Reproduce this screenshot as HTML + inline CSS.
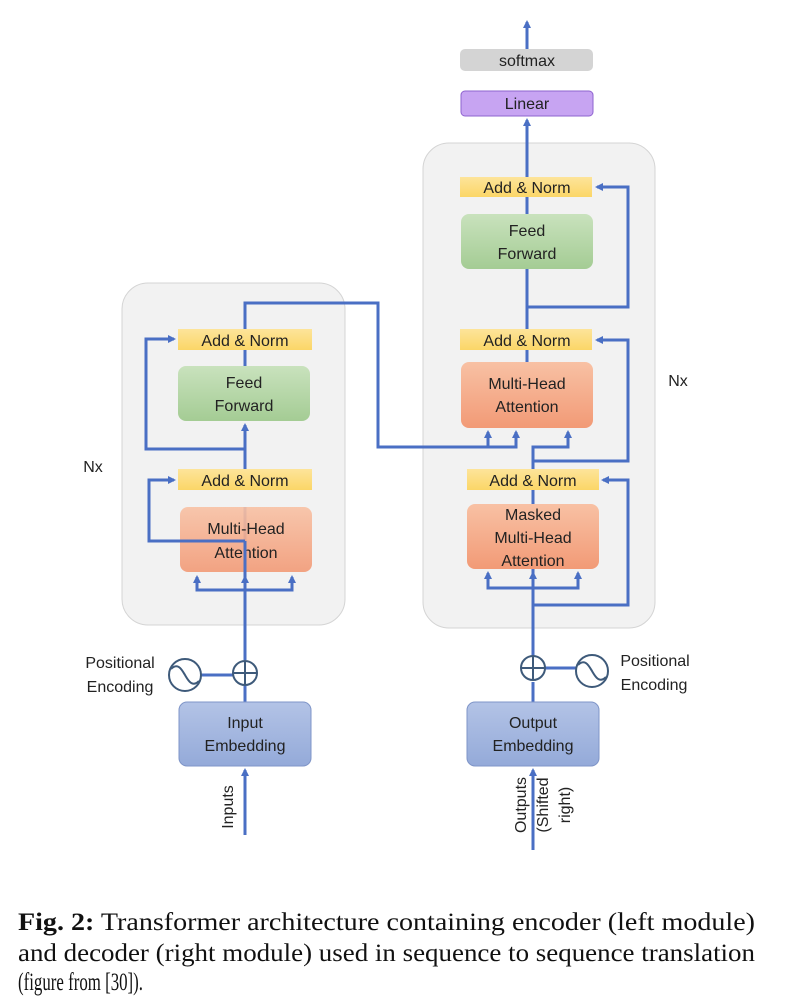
<!DOCTYPE html>
<html><head><meta charset="utf-8"><style>
html,body{margin:0;padding:0;background:#fff;width:795px;height:1008px;overflow:hidden}
svg{display:block}
.t{font-family:"Liberation Sans",sans-serif;font-size:16px;fill:#222;text-anchor:middle}
.c{font-family:"Liberation Serif",serif;font-size:25px;fill:#111}
</style></head><body>
<svg width="795" height="1008" viewBox="0 0 795 1008">
<defs>
<marker id="a" markerWidth="8" markerHeight="8" refX="6" refY="4" orient="auto" markerUnits="userSpaceOnUse">
<path d="M0,0 L8,4 L0,8 z" fill="#4a6fc4"/></marker>
<linearGradient id="yl" x1="0" x2="0" y1="0" y2="1"><stop offset="0" stop-color="#fde49a"/><stop offset="1" stop-color="#fbd667"/></linearGradient>
<linearGradient id="gr" x1="0" x2="0" y1="0" y2="1"><stop offset="0" stop-color="#c9e2bd"/><stop offset="1" stop-color="#a4cc94"/></linearGradient>
<linearGradient id="or" x1="0" x2="0" y1="0" y2="1"><stop offset="0" stop-color="#f8c1a4"/><stop offset="1" stop-color="#f29a76"/></linearGradient>
<linearGradient id="bl" x1="0" x2="0" y1="0" y2="1"><stop offset="0" stop-color="#b3c3e6"/><stop offset="1" stop-color="#94aad9"/></linearGradient>
</defs>
<!-- module boxes -->
<rect x="122" y="283" width="223" height="342" rx="26" fill="#f2f2f2" stroke="#d4d4d4"/>
<rect x="423" y="143" width="232" height="485" rx="26" fill="#f2f2f2" stroke="#d4d4d4"/>
<!-- top -->
<rect x="460" y="49" width="133" height="22" rx="5" fill="#d4d4d4"/>
<text class="t" x="527" y="66">softmax</text>
<rect x="461" y="91" width="132" height="25" rx="4" fill="#c7a4f2" stroke="#8e63cf"/>
<text class="t" x="527" y="109">Linear</text>
<g stroke="#4a6fc4" stroke-width="3" fill="none">
<line x1="527" y1="49" x2="527" y2="22" marker-end="url(#a)"/>
<line x1="527" y1="177" x2="527" y2="120" marker-end="url(#a)"/>
<!-- encoder -->
<line x1="245" y1="835" x2="245" y2="770" marker-end="url(#a)"/>
<line x1="245" y1="702" x2="245" y2="686"/>
<line x1="245" y1="660" x2="245" y2="507"/>
<polyline points="245,590 197,590 197,577" marker-end="url(#a)"/>
<polyline points="245,590 292,590 292,577" marker-end="url(#a)"/>
<line x1="245" y1="590" x2="245" y2="577" marker-end="url(#a)"/>
<polyline points="245,541 149,541 149,480 174,480" marker-end="url(#a)"/>
<line x1="245" y1="490" x2="245" y2="425" marker-end="url(#a)"/>
<polyline points="245,449 146,449 146,339 174,339" marker-end="url(#a)"/>
<line x1="245" y1="366" x2="245" y2="350"/>
<polyline points="245,329 245,303 378,303 378,447 516,447 516,432" marker-end="url(#a)"/>
<polyline points="488,447 488,432" marker-end="url(#a)"/>
<!-- decoder -->
<line x1="533" y1="850" x2="533" y2="770" marker-end="url(#a)"/>
<line x1="533" y1="702" x2="533" y2="682"/>
<line x1="533" y1="656" x2="533" y2="569"/>
<polyline points="533,588 488,588 488,573" marker-end="url(#a)"/>
<polyline points="533,588 578,588 578,573" marker-end="url(#a)"/>
<line x1="533" y1="588" x2="533" y2="573" marker-end="url(#a)"/>
<polyline points="533,605 628,605 628,480 603,480" marker-end="url(#a)"/>
<line x1="533" y1="504" x2="533" y2="490"/>
<polyline points="533,469 533,447 568,447 568,432" marker-end="url(#a)"/>
<polyline points="533,461 628,461 628,340 597,340" marker-end="url(#a)"/>
<line x1="527" y1="362" x2="527" y2="350"/>
<line x1="527" y1="329" x2="527" y2="269"/>
<polyline points="527,307 628,307 628,187 597,187" marker-end="url(#a)"/>
<line x1="527" y1="214" x2="527" y2="197"/>
<!-- pos enc connectors -->
<line x1="201" y1="675" x2="233" y2="675"/>
<line x1="545" y1="668" x2="576" y2="668"/>
</g>
<!-- encoder blocks -->
<rect x="178" y="329" width="134" height="21" fill="url(#yl)"/>
<text class="t" x="245" y="346">Add &amp; Norm</text>
<rect x="178" y="366" width="132" height="55" rx="8" fill="url(#gr)"/>
<text class="t" x="244" y="388">Feed</text><text class="t" x="244" y="411">Forward</text>
<rect x="178" y="469" width="134" height="21" fill="url(#yl)"/>
<text class="t" x="245" y="486">Add &amp; Norm</text>
<rect x="180" y="507" width="132" height="65" rx="8" fill="url(#or)" fill-opacity="0.9"/>
<text class="t" x="246" y="534">Multi-Head</text><text class="t" x="246" y="558">Attention</text>
<g stroke="#4a6fc4" stroke-width="3"><line x1="245" y1="541" x2="245" y2="572"/><line x1="149" y1="541" x2="245" y2="541"/></g>
<rect x="179" y="702" width="132" height="64" rx="8" fill="url(#bl)" stroke="#7f95c8"/>
<text class="t" x="245" y="728">Input</text><text class="t" x="245" y="751">Embedding</text>
<!-- decoder blocks -->
<rect x="460" y="177" width="132" height="20" fill="url(#yl)"/>
<text class="t" x="527" y="193">Add &amp; Norm</text>
<rect x="461" y="214" width="132" height="55" rx="8" fill="url(#gr)"/>
<text class="t" x="527" y="236">Feed</text><text class="t" x="527" y="259">Forward</text>
<rect x="460" y="329" width="132" height="21" fill="url(#yl)"/>
<text class="t" x="527" y="346">Add &amp; Norm</text>
<rect x="461" y="362" width="132" height="66" rx="8" fill="url(#or)"/>
<text class="t" x="527" y="389">Multi-Head</text><text class="t" x="527" y="412">Attention</text>
<rect x="467" y="469" width="132" height="21" fill="url(#yl)"/>
<text class="t" x="533" y="486">Add &amp; Norm</text>
<rect x="467" y="504" width="132" height="65" rx="8" fill="url(#or)"/>
<text class="t" x="533" y="520">Masked</text><text class="t" x="533" y="543">Multi-Head</text><text class="t" x="533" y="566">Attention</text>
<rect x="467" y="702" width="132" height="64" rx="8" fill="url(#bl)" stroke="#7f95c8"/>
<text class="t" x="533" y="728">Output</text><text class="t" x="533" y="751">Embedding</text>
<!-- pos enc -->
<g stroke="#3e5a7a" stroke-width="2" fill="#fff">
<circle cx="245" cy="673" r="12"/><line x1="233" y1="673" x2="257" y2="673"/><line x1="245" y1="661" x2="245" y2="685"/>
<circle cx="185" cy="675" r="16"/><path d="M171,669 C178,662 182,670 185,675 C188,680 192,688 199,681" fill="none"/>
<circle cx="533" cy="668" r="12"/><line x1="521" y1="668" x2="545" y2="668"/><line x1="533" y1="656" x2="533" y2="680"/>
<circle cx="592" cy="671" r="16"/><path d="M578,665 C585,658 589,666 592,671 C595,676 599,684 606,677" fill="none"/>
</g>
<text class="t" x="120" y="668">Positional</text><text class="t" x="120" y="692">Encoding</text>
<text class="t" x="655" y="666">Positional</text><text class="t" x="654" y="690">Encoding</text>
<text class="t" x="93" y="472">Nx</text>
<text class="t" x="678" y="386">Nx</text>
<text class="t" transform="translate(233,807) rotate(-90)">Inputs</text>
<text class="t" transform="translate(526,805) rotate(-90)">Outputs</text>
<text class="t" transform="translate(548,805) rotate(-90)">(Shifted</text>
<text class="t" transform="translate(570,805) rotate(-90)">right)</text>
<!-- caption -->
<text class="c" x="18" y="930" textLength="737" lengthAdjust="spacingAndGlyphs"><tspan font-weight="bold">Fig. 2:</tspan> Transformer architecture containing encoder (left module)</text>
<text class="c" x="18" y="961" textLength="737" lengthAdjust="spacingAndGlyphs">and decoder (right module) used in sequence to sequence translation</text>
<text class="c" x="18" y="990" textLength="125" lengthAdjust="spacingAndGlyphs">(figure from [30]).</text>
</svg>
</body></html>
